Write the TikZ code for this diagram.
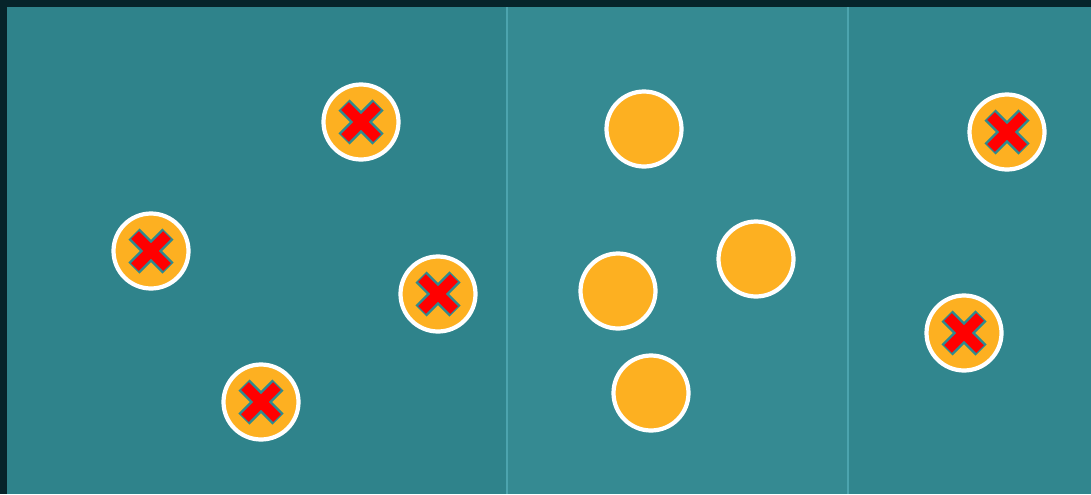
\documentclass[tikz,border=0pt]{standalone}
\usepackage{tikz}

\definecolor{fond}{HTML}{06242A}
\definecolor{sarcelle}{HTML}{2F838B}
\definecolor{sarcelleclair}{HTML}{358A92}
\definecolor{separation}{HTML}{4CA4AE}
\definecolor{jaune}{HTML}{FDB021}
\definecolor{rouge}{HTML}{FF0000}
\definecolor{bordcroix}{HTML}{2E8A90}

\tikzset{
    jeton/.style={circle, fill=jaune, draw=white, line width=2.4pt, minimum size=75*0.02cm, inner sep=0pt},
}

\newcommand{\croix}[1]{%
    \draw[bordcroix, line width=9pt] ([shift={(-17,-17)}]#1.center) -- ([shift={(17,17)}]#1.center)
        ([shift={(-17,17)}]#1.center) -- ([shift={(17,-17)}]#1.center);
    \draw[rouge, line width=6.2pt] ([shift={(-16,-16)}]#1.center) -- ([shift={(16,16)}]#1.center)
        ([shift={(-16,16)}]#1.center) -- ([shift={(16,-16)}]#1.center);
}

\begin{document}
\begin{tikzpicture}[x=0.02cm, y=-0.02cm]
    \useasboundingbox (0,0) rectangle (1091,494);
    % Fond et les trois zones
    \fill[fond] (0,0) rectangle (1091,494);
    \fill[sarcelle] (7,7) rectangle (507,494);
    \fill[sarcelleclair] (507,7) rectangle (848,494);
    \fill[sarcelle!60!sarcelleclair] (848,7) rectangle (1091,494);
    \draw[separation, line width=0.6pt] (507,7) -- (507,494);
    \draw[separation, line width=0.6pt] (848,7) -- (848,494);

    % Jetons barrés
    \node[jeton] (a1) at (361,122) {};
    \node[jeton] (a2) at (151,251) {};
    \node[jeton] (a3) at (438,294) {};
    \node[jeton] (a4) at (261,402) {};
    \node[jeton] (c1) at (1007,132) {};
    \node[jeton] (c2) at (964,333) {};
    \foreach \n in {a1,a2,a3,a4,c1,c2} {
        \croix{\n}
    }

    % Jetons libres
    \node[jeton] (b1) at (644,129) {};
    \node[jeton] (b2) at (756,259) {};
    \node[jeton] (b3) at (618,291) {};
    \node[jeton] (b4) at (651,393) {};
\end{tikzpicture}
\end{document}
